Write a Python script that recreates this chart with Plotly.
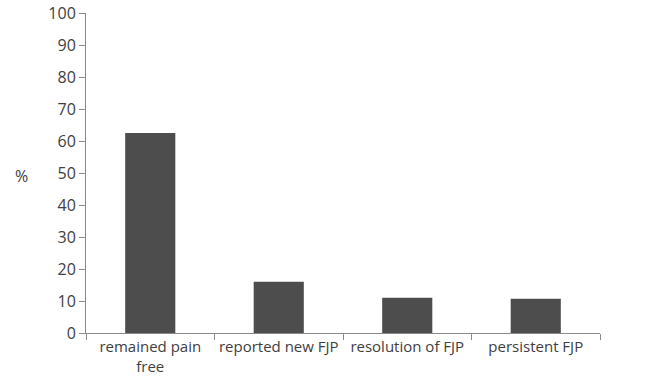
import plotly.graph_objects as go

categories = ["remained pain<br>free", "reported new FJP", "resolution of FJP", "persistent FJP"]
values = [62.5, 16.0, 11.0, 10.7]
y_ticks = [0, 10, 20, 30, 40, 50, 60, 70, 80, 90, 100]

axis_color = "#8a8a8a"
text_color = "#404040"
font_family = "Open Sans, Liberation Sans, sans-serif"

fig = go.Figure(go.Bar(x=categories, y=values, marker_color="#4d4d4d",
                       marker_line_width=0))

fig.update_layout(
    width=651, height=389,
    margin=dict(l=86, r=51, t=13, b=56),
    paper_bgcolor="white", plot_bgcolor="white",
    bargap=0.61,
    showlegend=False,
    font=dict(family=font_family, size=15, color=text_color),
)
fig.update_xaxes(showline=True, linecolor=axis_color, linewidth=1,
                 ticks="outside", tickson="boundaries", ticklen=6,
                 tickcolor=axis_color, showgrid=False, automargin=False,
                 tickangle=0,
                 tickfont=dict(size=15, color=text_color))
fig.update_yaxes(range=[0, 100], tickvals=y_ticks, showline=True,
                 linecolor=axis_color, linewidth=1, ticks="outside",
                 ticklen=6, tickcolor=axis_color, showgrid=False,
                 zeroline=False, automargin=False, ticksuffix="\u2002",
                 tickfont=dict(size=16, color=text_color))
fig.add_annotation(text="%", xref="x domain", yref="y domain",
                   x=(21 - 86) / 514, y=(333 - 176) / 320,
                   xanchor="center", yanchor="middle",
                   showarrow=False, font=dict(size=16, color=text_color))
fig.write_html("out.html", config={"displayModeBar": False},
               post_script="document.body.style.margin='0';")
